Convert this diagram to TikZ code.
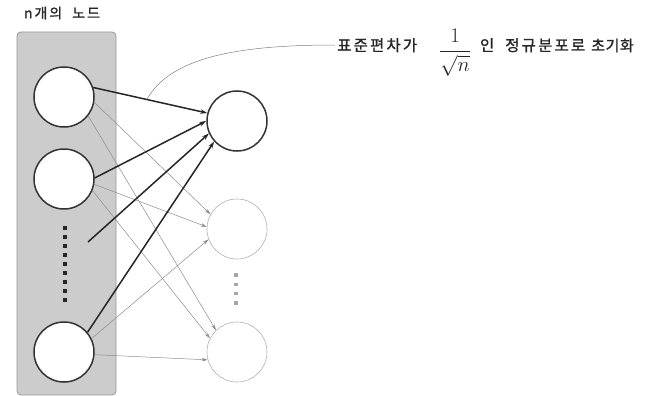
\documentclass[tikz,border=0pt]{standalone}
\usepackage{fontspec}
\usepackage{amsmath}
\newfontfamily\kr{Noto Sans CJK KR}[FakeBold=1.2,LetterSpace=14]
\newfontfamily\krn{Noto Sans CJK KR}[FakeBold=1.2,LetterSpace=4]
\usetikzlibrary{arrows.meta}
\begin{document}
\begin{tikzpicture}[x=1pt,y=-1pt,
  panel/.style={rectangle,draw=black!40,fill=black!20,line width=0.8pt,rounded corners=4pt,inner sep=0pt},
  lnode/.style={circle,draw=black!80,line width=1.5pt,fill=white,minimum size=60pt,inner sep=0pt},
  rlight/.style={circle,draw=black!30,line width=0.6pt,fill=white,minimum size=60pt,inner sep=0pt},
  darr/.style={-{Stealth[length=7pt,width=4.5pt]},line width=1.5pt,draw=black!85},
  garr/.style={-{Stealth[length=6pt,width=3.5pt]},line width=0.5pt,draw=black!45},
  vdot/.style={rectangle,fill=black!85,minimum size=3.6pt,inner sep=0pt},
  rdot/.style={rectangle,fill=black!35,minimum size=3.6pt,inner sep=0pt},
  lbl/.style={inner sep=0pt,text=black!85}
]
\useasboundingbox (0,0) rectangle (645,396);
\fill[white] (0,0) rectangle (645,396);
\node[lbl,font=\kr\fontsize{14}{16}\selectfont] (title) at (62,13) {n개의\hspace{10pt}노드};
\node[panel,minimum width=99pt,minimum height=363pt] (panel) at (66.5,213.5) {};
% nodes
\node[lnode] (L1) at (64,97) {};
\node[lnode] (L2) at (64,179) {};
\node[lnode] (L3) at (64,352) {};
\node[lnode] (R1) at (237,121) {};
\node[rlight] (R2) at (237,229) {};
\node[rlight] (R3) at (237,352) {};
\foreach \i in {0,...,8} \node[vdot] (ld\i) at (65,228+9*\i) {};
\foreach \i in {0,...,3} \node[rdot] (rd\i) at (236,275+9.3*\i) {};
\coordinate (dsrc) at (88,242);
% gray arrows
\draw[garr] (L1.-10) -- (R2.151);
\draw[garr] (L1.-38) -- (R3.134);
\draw[garr] (L2.-10) -- (R2.176);
\draw[garr] (L2.-22) -- (R3.153);
\draw[garr] (L3.26) -- (R2.200);
\draw[garr] (L3.-5) -- (R3.195);
% dark arrows
\draw[darr] (L1.18) -- coordinate[pos=0.47] (cstart) (R1.165);
\draw[darr] (L2.2) -- (R1.180);
\draw[darr] (dsrc) -- (R1.204);
\draw[darr] (L3.40) -- (R1.222);
% label
\node[lbl,anchor=base west,font=\kr\fontsize{15.5}{17}\selectfont] (lab) at (337,51)
  {표준편차가\hspace{22pt}\raisebox{-6pt}{\fontsize{20}{24}\selectfont$\dfrac{1}{\sqrt{n}}$}\hspace{9pt}인\hspace{11pt}정규분포로\hspace{6pt}{\krn\fontsize{15}{17}\selectfont 초기화}};
\draw[black!50,line width=0.5pt] (cstart) .. controls (170,58) and (235,45) .. ([yshift=6pt,xshift=-2pt]lab.base west);
\end{tikzpicture}
\end{document}
